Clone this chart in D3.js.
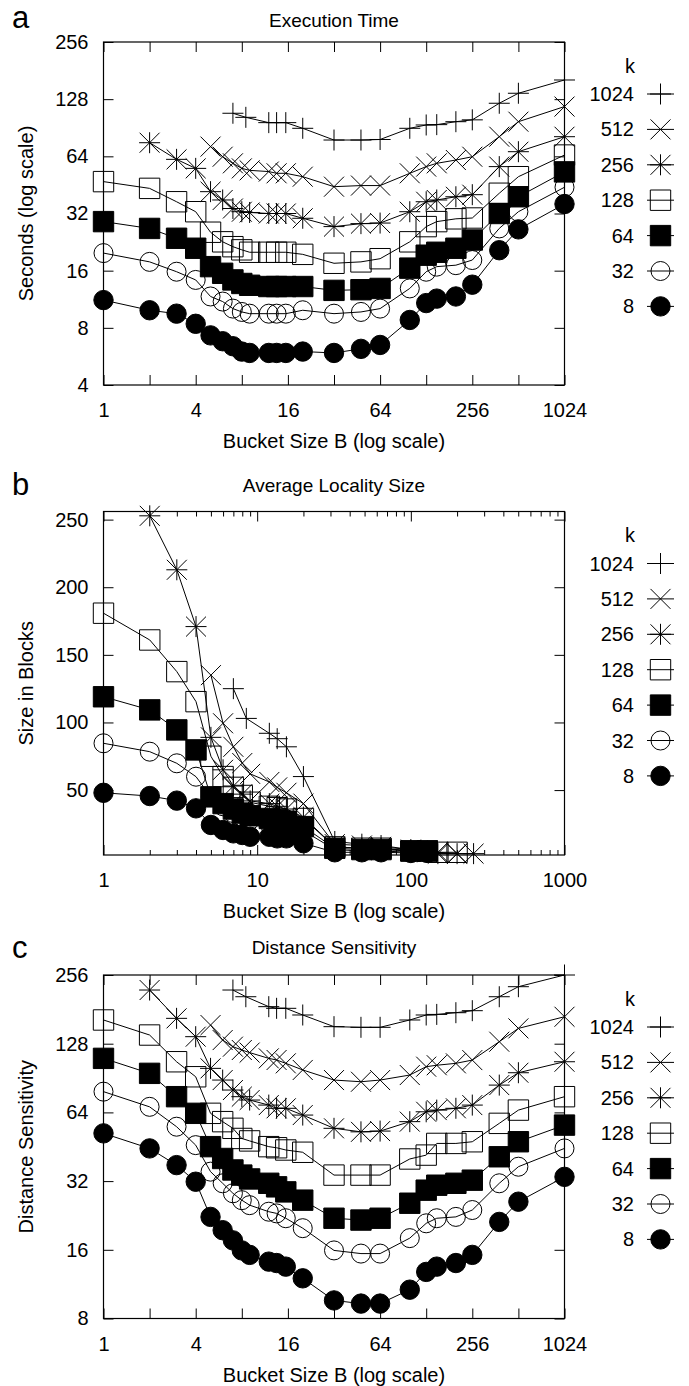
<!DOCTYPE html>
<html>
<head>
<meta charset="utf-8">
<script src="https://cdn.jsdelivr.net/npm/d3@7"></script>
<style>
  body { margin: 0; background: #fff; }
  svg text { font-family: "Liberation Sans", Arial, sans-serif; fill: #000; }
</style>
</head>
<body>
<svg id="chart" width="689" height="1386"></svg>
<script>

// bucket sizes B (x values) for the different k series
const bucketsFrom1 = [ 1, 2, 3, 4, 5, 6, 7, 8, 9, 12, 13.5, 15.5, 20, 32, 48, 64, 100, 128, 150, 200, 256, 384, 512, 1024 ];
const bucketsFrom2 = [ 2, 3, 4, 5, 6, 7, 8, 9, 12, 13.5, 15.5, 20, 32, 48, 64, 100, 128, 150, 200, 256, 384, 512, 1024 ];
const bucketsFrom5 = [ 5, 6, 7, 8, 9, 12, 13.5, 15.5, 20, 32, 48, 64, 100, 128, 150, 200, 256, 384, 512, 1024 ];
const buckets1024 = [ 7, 8.5, 12, 13.5, 15.5, 20, 32, 48, 64, 100, 128, 150, 200, 256, 384, 512, 1024 ];

const kLabels = [ "1024", "512", "256", "128", "64", "32", "8" ];

// a: execution time (seconds)
const timeK1024 = [ 107.9, 102.7, 96.3, 96.3, 96.3, 89.9, 78, 78, 78.5, 89.9, 93.6, 94, 97.4, 99.6, 121.8, 137.5, 161.5 ];
const timeK512 = [ 72, 63.7, 58.8, 55.3, 54, 53.2, 52.1, 52.1, 50, 44.3, 44.9, 44.9, 52.1, 56.5, 58.8, 61.2, 63.7, 81.2, 97.4, 117 ];
const timeK256 = [ 75.5, 61.7, 55.3, 41.7, 37.7, 34, 32.7, 32.4, 32, 32, 32, 30.2, 27.3, 28.3, 28.5, 32.7, 36.9, 37.7, 39.2, 40.2, 56.5, 67.7, 81.2 ];
const timeK128 = [ 47.1, 43.4, 36.9, 32.7, 25.5, 22.7, 21.4, 20.6, 20, 20, 20, 20, 19.5, 17.5, 17.8, 18.5, 22.7, 27.3, 29, 30, 30.3, 40.9, 50, 65 ];
const timeK64 = [ 29, 26.7, 23.7, 21, 16.8, 15.5, 14.3, 13.7, 13.4, 13.2, 13.2, 13.2, 13.2, 12.6, 12.7, 12.9, 16.5, 19.3, 20, 21, 23.2, 32, 39.2, 53 ];
const timeK32 = [ 19.8, 17.8, 15.8, 14.3, 11.7, 11, 10.1, 9.7, 9.5, 9.5, 9.5, 9.5, 9.9, 9.5, 9.7, 10.1, 12.9, 15.8, 16.8, 17.1, 18.2, 26.7, 32.7, 44 ];
const timeK8 = [ 11.2, 9.9, 9.5, 8.4, 7.3, 6.8, 6.4, 6, 5.9, 5.9, 5.9, 5.9, 6, 5.9, 6.2, 6.5, 8.8, 10.8, 11.4, 11.7, 13.5, 20.5, 26.4, 35.9 ];

// b: average locality size (blocks); series stop where they reach the floor
const sizeK1024 = [ 125, 103, 92, 88, 82, 60, 12, 10, 9, 6, 5 ];
const sizeK512 = [ 135, 99.4, 82, 70, 62, 56, 52, 48, 40, 10, 9, 8, 6, 5, 4, 3 ];
const sizeK256 = [ 252.8, 212.9, 170.9, 89, 65, 53, 47, 42, 40, 38, 36, 30, 8, 7, 7, 5, 4, 3, 3, 3 ];
const sizeK128 = [ 180.8, 161, 137.6, 115.4, 75, 60, 52, 46, 41, 38, 37, 36, 29, 8, 7, 7, 5, 5, 4, 4 ];
const sizeK64 = [ 119, 109.3, 94.5, 79.7, 45, 40, 36, 33, 31, 29, 28, 27, 23, 7, 6, 6, 5, 5 ];
const sizeK32 = [ 84.6, 78.4, 69.8, 59.9, 45, 38, 33, 30, 28, 25, 24, 23, 20, 6, 5, 5, 4, 4 ];
const sizeK8 = [ 48, 45.6, 42.2, 36.5, 24.2, 20.5, 18, 16.8, 15.5, 15.5, 14.3, 14.3, 10.7, 4, 4, 4, 3.5, 3.5 ];

// c: distance sensitivity
const distK1024 = [ 220, 205.6, 186, 182.9, 182.9, 171, 152, 151, 151, 162.6, 171, 172, 175, 178.6, 205.6, 227.5, 256 ];
const distK512 = [ 154.5, 132.8, 124.2, 120.1, 117, 110.4, 108.6, 105, 98.2, 88.7, 87.2, 88.7, 93.3, 101.5, 103, 105, 108.5, 130.6, 149.4, 168 ];
const distK256 = [ 220, 165.3, 137.4, 99.8, 88.7, 80.2, 75, 72.5, 68.9, 66.7, 66.7, 62.3, 54.5, 52.6, 53, 58.3, 64.4, 65.5, 66.7, 68.9, 84.3, 95.5, 106.7 ];
const distK128 = [ 162.6, 139.7, 106.7, 91.7, 63.4, 58.3, 54.5, 49.2, 48, 45.3, 44.8, 43.8, 42.8, 34, 34, 34, 40, 41.6, 46.8, 46.8, 47.6, 57.3, 65.5, 75 ];
const distK64 = [ 110.4, 94.9, 75, 63.4, 45.3, 40.2, 35.8, 34, 32.7, 31.3, 30.2, 28.7, 26.4, 22, 21.6, 22, 25.6, 29.2, 30.7, 31.3, 32.3, 40.9, 47.6, 56.3 ];
const distK32 = [ 78.9, 67.7, 55.4, 46, 35.2, 31.3, 28.3, 26.4, 25.1, 23.5, 23.1, 22, 19.9, 15.9, 15.4, 15.4, 18, 20.9, 22, 22.3, 23.9, 31.3, 37, 44.5 ];
const distK8 = [ 51.8, 44.5, 37.6, 31.8, 22.3, 19.5, 17.6, 15.9, 15.2, 14.2, 14, 13.5, 12, 9.6, 9.3, 9.3, 10.7, 12.8, 13.5, 14, 15.2, 21.2, 26, 33.4 ];

// tick values
const pow2Ticks = [ 1, 2, 4, 8, 16, 32, 64, 128, 256, 512, 1024 ];
const pow2Labels = [ 1, 4, 16, 64, 256, 1024 ];
const decadeTicks = [ 1, 10, 100, 1000 ];
const timeYTicks = [ 4, 8, 16, 32, 64, 128, 256 ];
const sizeYTicks = [ 50, 100, 150, 200, 250 ];
const distYTicks = [ 8, 16, 32, 64, 128, 256 ];

// ---- marker shapes (gnuplot style point types) ----
const symPlus = { draw( c, r ) { c.moveTo( -r, 0 ); c.lineTo( r, 0 ); c.moveTo( 0, -r ); c.lineTo( 0, r ); } };
const symCross = { draw( c, r ) { c.moveTo( -r, -r ); c.lineTo( r, r ); c.moveTo( -r, r ); c.lineTo( r, -r ); } };
const symStar = { draw( c, r ) {
	c.moveTo( -r, 0 ); c.lineTo( r, 0 ); c.moveTo( 0, -r ); c.lineTo( 0, r );
	let d = r * 0.95;
	c.moveTo( -d, -d ); c.lineTo( d, d ); c.moveTo( -d, d ); c.lineTo( d, -d );
} };
const symSquare = { draw( c, r ) { c.rect( -r, -r, 2 * r, 2 * r ); } };
const symCircle = { draw( c, r ) { c.moveTo( r, 0 ); c.arc( 0, 0, r, 0, 2 * Math.PI ); } };

const markers = {
	"1024": { type: symPlus, r: 10.5, fill: "none" },
	"512": { type: symCross, r: 10, fill: "none" },
	"256": { type: symStar, r: 10.5, fill: "none" },
	"128": { type: symSquare, r: 10.2, fill: "none" },
	"64": { type: symSquare, r: 10.2, fill: "#000" },
	"32": { type: symCircle, r: 9.5, fill: "none" },
	"8": { type: symCircle, r: 9.7, fill: "#000" },
};

const svg = d3.select( "#chart" );
svg.append( "rect" ).attr( "width", 689 ).attr( "height", 1386 ).attr( "fill", "#fff" );

const left = 103.5, right = 564.5;

const panels = [
	{
		letter: "a", title: "Execution Time", ylabel: "Seconds (log scale)",
		top: 42, bottom: 385, letterY: 27.5, titleY: 27,
		x: d3.scaleLog().base( 2 ).domain( [ 1, 1024 ] ),
		y: d3.scaleLog().base( 2 ).domain( [ 4, 256 ] ),
		yTicks: timeYTicks, logX2: true,
		series: [
			[ buckets1024, timeK1024 ], [ bucketsFrom5, timeK512 ], [ bucketsFrom2, timeK256 ],
			[ bucketsFrom1, timeK128 ], [ bucketsFrom1, timeK64 ], [ bucketsFrom1, timeK32 ], [ bucketsFrom1, timeK8 ],
		],
	},
	{
		letter: "b", title: "Average Locality Size", ylabel: "Size in Blocks",
		top: 511.5, bottom: 855, letterY: 495, titleY: 491.5,
		x: d3.scaleLog().domain( [ 1, 1000 ] ),
		y: d3.scaleLinear().domain( [ 2, 256 ] ),
		yTicks: sizeYTicks, logX2: false,
		series: [
			[ buckets1024, sizeK1024 ], [ bucketsFrom5, sizeK512 ], [ bucketsFrom2, sizeK256 ],
			[ bucketsFrom1, sizeK128 ], [ bucketsFrom1, sizeK64 ], [ bucketsFrom1, sizeK32 ], [ bucketsFrom1, sizeK8 ],
		],
	},
	{
		letter: "c", title: "Distance Sensitivity", ylabel: "Distance Sensitivity",
		top: 975, bottom: 1318.5, letterY: 958, titleY: 953.5,
		x: d3.scaleLog().base( 2 ).domain( [ 1, 1024 ] ),
		y: d3.scaleLog().base( 2 ).domain( [ 8, 256 ] ),
		yTicks: distYTicks, logX2: true,
		series: [
			[ buckets1024, distK1024 ], [ bucketsFrom5, distK512 ], [ bucketsFrom2, distK256 ],
			[ bucketsFrom1, distK128 ], [ bucketsFrom1, distK64 ], [ bucketsFrom1, distK32 ], [ bucketsFrom1, distK8 ],
		],
	},
];

function styleAxis( g ) {
	g.select( ".domain" ).remove();
	g.selectAll( "line" ).attr( "stroke", "#000" ).attr( "stroke-width", 1 );
	g.selectAll( "text" ).attr( "font-size", 20 ).attr( "font-family", "Liberation Sans, Arial, sans-serif" ).attr( "fill", "#000" );
}

panels.forEach( ( p, pi ) => {

	let x = p.x.range( [ left, right ] );
	let y = p.y.range( [ p.bottom, p.top ] );
	let g = svg.append( "g" );

	// panel letter and title
	g.append( "text" ).attr( "x", 12 ).attr( "y", p.letterY ).attr( "font-size", 31 ).text( p.letter );
	g.append( "text" ).attr( "x", ( left + right ) / 2 ).attr( "y", p.titleY )
		.attr( "text-anchor", "middle" ).attr( "font-size", 19 ).text( p.title );

	// x axes (inward ticks, mirrored on top)
	let fmtX = p.logX2 ? ( d => pow2Labels.includes( d ) ? d : "" ) : d3.format( "d" );
	let majorX = p.logX2 ? pow2Ticks : decadeTicks;

	g.append( "g" ).attr( "transform", "translate(0," + p.bottom + ")" )
		.call( d3.axisBottom( x ).tickValues( majorX ).tickFormat( fmtX ).tickSizeInner( -10 ).tickSizeOuter( 0 ).tickPadding( 18 ) )
		.call( styleAxis );
	g.append( "g" ).attr( "transform", "translate(0," + p.top + ")" )
		.call( d3.axisTop( x ).tickValues( majorX ).tickFormat( "" ).tickSizeInner( -10 ).tickSizeOuter( 0 ) )
		.call( styleAxis );

	if ( ! p.logX2 ) {
		let minor = x.ticks().filter( d => ! decadeTicks.includes( d ) );
		g.append( "g" ).attr( "transform", "translate(0," + p.bottom + ")" )
			.call( d3.axisBottom( x ).tickValues( minor ).tickFormat( "" ).tickSizeInner( -5 ).tickSizeOuter( 0 ) )
			.call( styleAxis );
		g.append( "g" ).attr( "transform", "translate(0," + p.top + ")" )
			.call( d3.axisTop( x ).tickValues( minor ).tickFormat( "" ).tickSizeInner( -5 ).tickSizeOuter( 0 ) )
			.call( styleAxis );
	}

	// y axes
	g.append( "g" ).attr( "transform", "translate(" + left + ",0)" )
		.call( d3.axisLeft( y ).tickValues( p.yTicks ).tickFormat( d3.format( "d" ) ).tickSizeInner( -10 ).tickSizeOuter( 0 ).tickPadding( 15 ) )
		.call( styleAxis );
	g.append( "g" ).attr( "transform", "translate(" + right + ",0)" )
		.call( d3.axisRight( y ).tickValues( p.yTicks ).tickFormat( "" ).tickSizeInner( -10 ).tickSizeOuter( 0 ) )
		.call( styleAxis );

	// border
	g.append( "rect" ).attr( "x", left ).attr( "y", p.top )
		.attr( "width", right - left ).attr( "height", p.bottom - p.top )
		.attr( "fill", "none" ).attr( "stroke", "#000" ).attr( "stroke-width", 1.2 );

	// axis titles
	g.append( "text" ).attr( "x", ( left + right ) / 2 ).attr( "y", p.bottom + 63 )
		.attr( "text-anchor", "middle" ).attr( "font-size", 20 ).text( "Bucket Size B (log scale)" );
	g.append( "text" ).attr( "transform", "translate(33," + ( ( p.top + p.bottom ) / 2 ) + ") rotate(-90)" )
		.attr( "text-anchor", "middle" ).attr( "font-size", 20 ).text( p.ylabel );

	let line = d3.line().x( d => x( d.b ) ).y( d => y( d.v ) );
	let plot = g.append( "g" );

	p.series.forEach( ( s, si ) => {
		let k = kLabels[ si ];
		let m = markers[ k ];
		let data = s[ 1 ].map( ( v, i ) => ( { b: s[ 0 ][ i ], v: v } ) );

		let sg = plot.append( "g" );
		sg.append( "path" ).datum( data )
			.attr( "d", line ).attr( "fill", "none" ).attr( "stroke", "#000" ).attr( "stroke-width", 1 );

		sg.selectAll( "path.pt" ).data( data ).enter().append( "path" )
			.attr( "class", "pt" )
			.attr( "transform", d => "translate(" + x( d.b ) + "," + y( d.v ) + ")" )
			.attr( "d", d3.symbol().type( m.type ).size( m.r ) )
			.attr( "fill", m.fill ).attr( "stroke", "#000" ).attr( "stroke-width", 1 );
	});

	// legend
	let lg = g.append( "g" );
	let legTop = p.top + 52;
	lg.append( "text" ).attr( "x", 635 ).attr( "y", p.top + 30.5 ).attr( "text-anchor", "end" ).attr( "font-size", 20 ).text( "k" );

	kLabels.forEach( ( k, i ) => {
		let ly = legTop + i * 35.4;
		let m = markers[ k ];
		lg.append( "text" ).attr( "x", 634 ).attr( "y", ly ).attr( "dy", "0.35em" )
			.attr( "text-anchor", "end" ).attr( "font-size", 20 ).text( k );
		lg.append( "line" ).attr( "x1", 647 ).attr( "x2", 674 ).attr( "y1", ly ).attr( "y2", ly )
			.attr( "stroke", "#000" ).attr( "stroke-width", 1 );
		lg.append( "path" ).attr( "transform", "translate(660.5," + ly + ")" )
			.attr( "d", d3.symbol().type( m.type ).size( m.r ) )
			.attr( "fill", m.fill ).attr( "stroke", "#000" ).attr( "stroke-width", 1 );
	});
});

</script>
</body>
</html>
